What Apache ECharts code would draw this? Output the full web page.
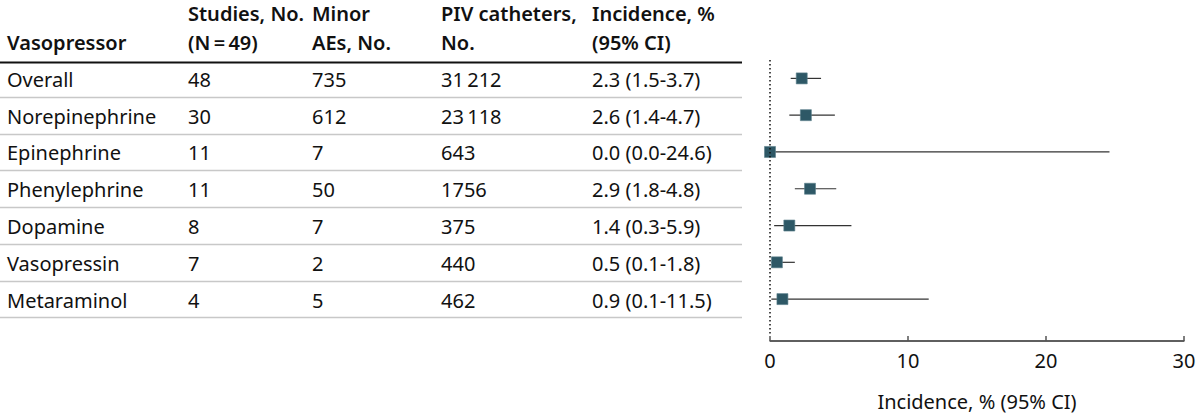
<!DOCTYPE html>
<html><head><meta charset="utf-8">
<script src="https://cdn.jsdelivr.net/npm/echarts@6/dist/echarts.min.js"></script>
<style>html,body{margin:0;padding:0;background:#fff}#c{width:1200px;height:418px}</style>
</head><body><div id="c"></div>
<script>
var vasopressors = ['Overall','Norepinephrine','Epinephrine','Phenylephrine','Dopamine','Vasopressin','Metaraminol'];
var studies = [48,30,11,11,8,7,4];
var minorAEs = [735,612,7,50,7,2,5];
var pivCatheters = ['31\u2009212','23\u2009118','643','1756','375','440','462'];
var incidence = [2.3,2.6,0.0,2.9,1.4,0.5,0.9];
var ciLow = [1.5,1.4,0.0,1.8,0.3,0.1,0.1];
var ciHigh = [3.7,4.7,24.6,4.8,5.9,1.8,11.5];
var xTicks = [0,10,20,30];
var headers = [['','Vasopressor'],['Studies, No.','(N\u2009=\u200949)'],['Minor','AEs, No.'],['PIV catheters,','No.'],['Incidence, %','(95% CI)']];

var FONT = '"Noto Sans", sans-serif';
var FS = 20;
var colX = [7,188,312,441,592];
var GT = 60, GH = 281, YMIN = 0.5, YMAX = 8.139;
var UNIT = GH / (YMAX - YMIN);
function rowY(i){return GT + (i + 1 - YMIN) * UNIT;}

var g = [];
headers.forEach(function(h,c){
  h.forEach(function(t,l){
    if(!t) return;
    g.push({type:'text',left:colX[c],top:(l===0?3:32),style:{text:t,fontSize:FS,fontFamily:FONT,fontWeight:600,fill:'#111'}});
  });
});
g.push({type:'rect',shape:{x:0,y:61.5,width:742,height:2},style:{fill:'#111'}});
vasopressors.forEach(function(v,i){
  var y = rowY(i);
  var cells = [v,String(studies[i]),String(minorAEs[i]),pivCatheters[i],incidence[i].toFixed(1)+' ('+ciLow[i].toFixed(1)+'-'+ciHigh[i].toFixed(1)+')'];
  cells.forEach(function(t,c){
    g.push({type:'text',x:colX[c],y:y+1,style:{text:t,fontSize:FS,fontFamily:FONT,fill:'#111',textVerticalAlign:'middle',verticalAlign:'middle'}});
  });
  var ly = Math.round(rowY(i+0.5))+0.5;
  g.push({type:'line',shape:{x1:0,y1:ly,x2:742,y2:ly},style:{stroke:'#c8c8c8',lineWidth:1.5}});
});

// axis baseline, ticks and the dotted zero line, drawn through the chart's own scales
var axisStyle = {type:'solid',color:'#555',width:1.5};
var mlData = [
  [{coord:[0,YMIN],lineStyle:{type:[1.5,2.5],color:'#111',width:1.5}},{coord:[0,7.95]}],
  [{coord:[xTicks[0],YMAX],lineStyle:axisStyle},{coord:[xTicks[xTicks.length-1],YMAX]}]
];
xTicks.forEach(function(t){
  mlData.push([{coord:[t,YMAX],lineStyle:axisStyle},{coord:[t,YMAX-5/UNIT]}]);
});

var chart = echarts.init(document.getElementById('c'), null, {renderer:'svg'});
var ciData = incidence.map(function(v,i){return [v,i+1,ciLow[i],ciHigh[i]];});
chart.setOption({
  animation:false,
  graphic:g,
  grid:{left:770,right:16,top:GT,height:GH},
  xAxis:{type:'value',min:xTicks[0],max:xTicks[xTicks.length-1],interval:10,
    axisLine:{show:true,onZero:false,lineStyle:{color:'#555',width:1.5}},
    axisTick:{show:false},
    splitLine:{show:false},
    axisLabel:{color:'#111',fontSize:FS,fontFamily:FONT,margin:9},
    name:'Incidence, % (95% CI)',nameLocation:'middle',nameGap:50,
    nameTextStyle:{color:'#111',fontSize:FS,fontFamily:FONT}},
  yAxis:{type:'value',inverse:true,min:YMIN,max:YMAX,show:false},
  series:[{
    type:'custom',
    data:ciData,
    z:3,
    renderItem:function(params,api){
      var y = api.value(1);
      var p0 = api.coord([api.value(2),y]);
      var p1 = api.coord([api.value(3),y]);
      var pc = api.coord([api.value(0),y]);
      var s = 11;
      return {type:'group',children:[
        {type:'line',shape:{x1:p0[0],y1:p0[1],x2:p1[0],y2:p1[1]},style:{stroke:'#333',lineWidth:1.2}},
        {type:'rect',shape:{x:pc[0]-s/2,y:pc[1]-s/2,width:s,height:s},style:{fill:'#2e5866',stroke:'#5a7f8b',lineWidth:0.6}}
      ]};
    },
    markLine:{silent:true,symbol:'none',label:{show:false},data:mlData}
  }]
});
</script></body></html>
